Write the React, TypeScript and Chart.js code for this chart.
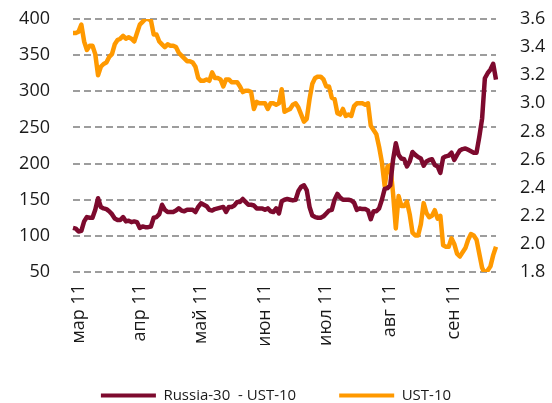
import React, { useEffect, useRef } from "react";
import { Chart, registerables } from "chart.js";

Chart.register(...registerables);

// Russia-30 - UST-10 spread, bp (left axis), one value per trading day
const spread = [
  111, 110, 106, 107, 120, 126, 125, 125, 136, 152,
  140, 138, 137, 134, 130, 124, 122, 122, 126, 120,
  121, 119, 120, 119, 111, 113, 112, 112, 113, 125,
  126, 130, 143, 136, 133, 133, 133, 135, 138, 135,
  134, 136, 136, 136, 133, 140, 145, 143, 141, 136,
  135, 137, 138, 139, 140, 133, 140, 140, 142, 147,
  147, 151, 147, 143, 143, 142, 138, 138, 138, 136,
  138, 134, 133, 138, 131, 148, 150, 151, 150, 149,
  150, 162, 168, 170, 163, 140, 128, 126, 125, 125,
  127, 131, 135, 136, 150, 158, 153, 150, 150, 150,
  149, 146, 136, 138, 137, 137, 135, 123, 134, 134,
  138, 150, 165, 166, 170, 205, 228, 212, 207, 206,
  196, 203, 216, 212, 209, 207, 197, 203, 205, 206,
  198, 196, 187, 208, 210, 211, 215, 205, 212, 218,
  220, 221, 219, 217, 215, 215, 237, 262, 318, 325,
  330, 338, 316,
];

// UST-10 yield, % (right axis)
const ust10 = [
  3.5, 3.5, 3.51, 3.56, 3.44, 3.38, 3.41, 3.41, 3.35, 3.2,
  3.26, 3.28, 3.29, 3.33, 3.35, 3.42, 3.45, 3.46, 3.48, 3.46,
  3.47, 3.46, 3.44, 3.5, 3.56, 3.58, 3.6, 3.6, 3.59, 3.49,
  3.49, 3.44, 3.42, 3.4, 3.42, 3.41, 3.41, 3.4, 3.36, 3.34,
  3.32, 3.3, 3.3, 3.29, 3.26, 3.18, 3.16, 3.16, 3.17, 3.16,
  3.22, 3.18, 3.18, 3.17, 3.12, 3.17, 3.17, 3.15, 3.15, 3.15,
  3.12, 3.08, 3.09, 3.09, 3.08, 2.96, 3.01, 3.0, 3.0, 3.0,
  2.96, 3.0, 3.0, 2.99, 3.0, 3.1, 2.94, 2.95, 2.96, 2.99,
  3.0, 2.97, 2.92, 2.87, 2.89, 3.03, 3.14, 3.18, 3.19, 3.19,
  3.17, 3.12, 3.12, 3.04, 3.03, 2.93, 2.92, 2.96, 2.91, 2.92,
  2.91, 2.98, 3.0, 3.0, 3.0, 2.99, 3.0, 2.84, 2.81, 2.78,
  2.69, 2.58, 2.41, 2.55, 2.56, 2.36, 2.11, 2.34, 2.27, 2.27,
  2.3, 2.21, 2.08, 2.06, 2.06, 2.14, 2.29, 2.22, 2.19, 2.2,
  2.24, 2.18, 2.2, 1.99, 1.98, 1.98, 2.04, 2.0, 1.93, 1.91,
  1.94, 1.97, 2.03, 2.07, 2.06, 2.03, 1.93, 1.83, 1.79, 1.81,
  1.84, 1.92, 1.98,
];

// Month tick labels and the trading-day index where each month starts
const monthLabels = ["мар 11", "апр 11", "май 11", "июн 11", "июл 11", "авг 11", "сен 11"];
const monthStart = [2, 24, 46, 69, 91, 114, 137];

const seriesNames = ["Russia-30  - UST-10", "UST-10"];
const seriesColors = ["#7D0A2E", "#FF9900"];

const leftRange = [50, 400, 50];
const rightRange = [1.8, 3.6, 0.2];

// dashed horizontal grid lines at the left-axis ticks
const dashedGrid = {
  id: "dashedGrid",
  beforeDatasetsDraw(chart: any) {
    const { ctx, chartArea, scales } = chart;
    const y = scales.y;
    ctx.save();
    ctx.strokeStyle = "#9d9d9d";
    ctx.lineWidth = 2;
    ctx.setLineDash([7, 4]);
    y.ticks.forEach((t: any) => {
      const py = Math.round(y.getPixelForValue(t.value));
      ctx.beginPath();
      ctx.moveTo(chartArea.left, py);
      ctx.lineTo(chartArea.right, py);
      ctx.stroke();
    });
    ctx.restore();
  },
};

export default function App() {
  const ref = useRef<HTMLCanvasElement>(null);

  useEffect(() => {
    if (!ref.current) return;
    const labels = spread.map((_, i) => {
      const m = monthStart.indexOf(i);
      return m >= 0 ? monthLabels[m] : "";
    });
    const tickFont = { family: "'Open Sans', sans-serif", size: 18 };
    const tickColor = "#1a1a1a";

    const chart = new Chart(ref.current, {
      type: "line",
      data: {
        labels,
        datasets: [
          {
            label: seriesNames[0],
            data: spread,
            yAxisID: "y",
            borderColor: seriesColors[0],
            backgroundColor: seriesColors[0],
            borderWidth: 4.5,
            pointRadius: 0,
            tension: 0,
            borderJoinStyle: "round",
          },
          {
            label: seriesNames[1],
            data: ust10,
            yAxisID: "y1",
            borderColor: seriesColors[1],
            backgroundColor: seriesColors[1],
            borderWidth: 4.5,
            pointRadius: 0,
            tension: 0,
            borderJoinStyle: "round",
          },
        ],
      },
      plugins: [dashedGrid],
      options: {
        animation: false,
        responsive: false,
        maintainAspectRatio: false,
        layout: { padding: { top: 19, bottom: -10, left: 0, right: 0 } },
        plugins: {
          tooltip: { enabled: false },
          legend: {
            position: "bottom",
            labels: {
              boxWidth: 55,
              boxHeight: 4,
              padding: 43,
              color: tickColor,
              font: { family: "'Open Sans', sans-serif", size: 15 },
              generateLabels: (c: any) =>
                Chart.defaults.plugins.legend.labels
                  .generateLabels(c)
                  .map((it: any) => ({ ...it, lineWidth: 0 })),
            },
          },
        },
        scales: {
          x: {
            type: "category",
            grid: { display: false, drawTicks: false },
            border: { display: false },
            ticks: {
              autoSkip: false,
              minRotation: 90,
              maxRotation: 90,
              padding: 12,
              color: tickColor,
              font: tickFont,
              callback: function (this: any, v: any) {
                const l = this.getLabelForValue(v);
                return l === "" ? null : l;
              },
            },
            afterFit: (s: any) => {
              s.height = 73;
            },
          },
          y: {
            position: "left",
            min: leftRange[0],
            max: leftRange[1],
            ticks: { stepSize: leftRange[2], padding: 23, color: tickColor, font: tickFont },
            grid: { display: false, drawTicks: false },
            border: { display: false },
            afterFit: (s: any) => {
              s.width = 73;
              s.paddingTop = 0;
              s.paddingBottom = 0;
            },
          },
          y1: {
            position: "right",
            min: rightRange[0],
            max: rightRange[1],
            ticks: {
              stepSize: rightRange[2],
              padding: 24,
              color: tickColor,
              font: tickFont,
              callback: (v: any) => Number(v).toFixed(1),
            },
            grid: { display: false, drawTicks: false },
            border: { display: false },
            afterFit: (s: any) => {
              s.width = 56;
              s.paddingTop = 0;
              s.paddingBottom = 0;
            },
          },
        },
      },
    } as any);
    return () => chart.destroy();
  }, []);

  return (
    <div style={{ position: "absolute", left: 0, top: 0, width: 552, height: 403, background: "#fff" }}>
      <canvas ref={ref} width={552} height={403} style={{ width: 552, height: 403, display: "block" }} />
    </div>
  );
}
